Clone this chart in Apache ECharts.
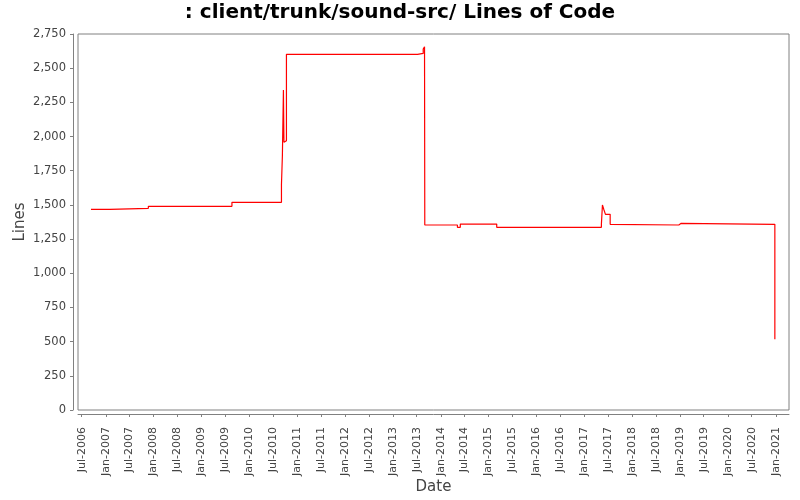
<!DOCTYPE html>
<html>
<head>
<meta charset="utf-8">
<script src="https://cdn.jsdelivr.net/npm/echarts@6/dist/echarts.min.js"></script>
<style>
html, body { margin: 0; padding: 0; background: #fff; }
#echarts_box { width: 800px; height: 500px; }
</style>
</head>
<body>
<div id="echarts_box"></div>
<script>
// dates of each change and the line count from that date on
var dates = [
    '2006-09-10', '2007-02-02', '2007-11-22', '2009-08-21',
    '2010-09-03', '2010-09-10', '2010-09-18', '2010-09-22', '2010-10-01', '2010-10-11',
    '2013-07-08', '2013-08-20', '2013-08-30', '2013-09-01',
    '2013-12-22', '2013-12-31', '2014-05-08', '2014-05-30', '2015-03-04',
    '2017-05-11', '2017-05-19', '2017-05-29', '2017-06-11', '2017-07-17', '2017-07-27',
    '2018-12-23', '2019-01-10', '2020-12-25'
];
var lines = [
    1468, 1475, 1490, 1519,
    1650, 1857, 2340, 1958, 1970, 2601,
    2608, 2640, 2657, 1353,
    1360, 1353, 1336, 1360, 1336,
    1358, 1499, 1468, 1431, 1358, 1353,
    1365, 1358, 517
];
var tickLabels = [
    'Jul-2006', 'Jan-2007', 'Jul-2007', 'Jan-2008', 'Jul-2008', 'Jan-2009',
    'Jul-2009', 'Jan-2010', 'Jul-2010', 'Jan-2011', 'Jul-2011', 'Jan-2012',
    'Jul-2012', 'Jan-2013', 'Jul-2013', 'Jan-2014', 'Jul-2014', 'Jan-2015',
    'Jul-2015', 'Jan-2016', 'Jul-2016', 'Jan-2017', 'Jul-2017', 'Jan-2018',
    'Jul-2018', 'Jan-2019', 'Jul-2019', 'Jan-2020', 'Jul-2020', 'Jan-2021'
];

var monthIdx = { Jan: 0, Jul: 6 };
var monthName = ['Jan', 'Feb', 'Mar', 'Apr', 'May', 'Jun', 'Jul', 'Aug', 'Sep', 'Oct', 'Nov', 'Dec'];
var tickValues = tickLabels.map(function (s) {
    var p = s.split('-');
    return Date.UTC(+p[1], monthIdx[p[0]], 1);
});

var seriesData = dates.map(function (d, i) {
    var p = d.split('-');
    return [Date.UTC(+p[0], +p[1] - 1, +p[2]), lines[i]];
});

var font = 'DejaVu Sans';
var gray = '#808080';

var mycharts = echarts.init(document.getElementById('echarts_box'));
var optionObj = {
    animation: false,
    backgroundColor: '#fff',
    title: {
        text: ': client/trunk/sound-src/ Lines of Code',
        left: 'center',
        top: 3,
        padding: 0,
        textStyle: { fontFamily: font, fontSize: 20, fontWeight: 'bold', color: '#000' }
    },
    grid: {
        left: 78,
        right: 11,
        top: 34,
        bottom: 90,
        show: true,
        borderColor: gray,
        borderWidth: 1
    },
    xAxis: {
        // value axis in ms, ticks placed on Jan/Jul
        type: 'value',
        min: Date.UTC(2006, 5, 3),
        max: Date.UTC(2021, 3, 12),
        offset: 4,
        name: 'Date',
        nameLocation: 'middle',
        nameGap: 66,
        nameMoveOverlap: false,
        nameTextStyle: { fontFamily: font, fontSize: 15, color: '#444' },
        axisLine: { show: true, onZero: false, lineStyle: { color: gray } },
        axisTick: { show: true, length: 3, customValues: tickValues, lineStyle: { color: gray } },
        axisLabel: {
            customValues: tickValues,
            rotate: 90,
            margin: 13,
            fontFamily: font,
            fontSize: 11,
            color: '#444',
            formatter: function (v) {
                var d = new Date(v);
                return monthName[d.getUTCMonth()] + '-' + d.getUTCFullYear();
            }
        },
        splitLine: { show: false }
    },
    yAxis: {
        type: 'value',
        min: 0,
        max: 2750,
        interval: 250,
        offset: 5,
        name: 'Lines',
        nameLocation: 'middle',
        nameGap: 45,
        nameMoveOverlap: false,
        nameRotate: 90,
        nameTextStyle: { fontFamily: font, fontSize: 15, color: '#444' },
        axisLine: { show: true, lineStyle: { color: gray } },
        axisTick: { show: true, length: 3, lineStyle: { color: gray } },
        axisLabel: {
            margin: 7,
            fontFamily: font,
            fontSize: 11.5,
            color: '#444',
            formatter: function (v) { return v.toLocaleString('en-US'); }
        },
        splitLine: { show: false }
    },
    series: [
        {
            name: 'Lines',
            type: 'line',
            step: 'end',
            symbol: 'none',
            lineStyle: { color: '#ff0000', width: 1.2 },
            data: seriesData
        }
    ]
};
mycharts.setOption(optionObj);
</script>
</body>
</html>
